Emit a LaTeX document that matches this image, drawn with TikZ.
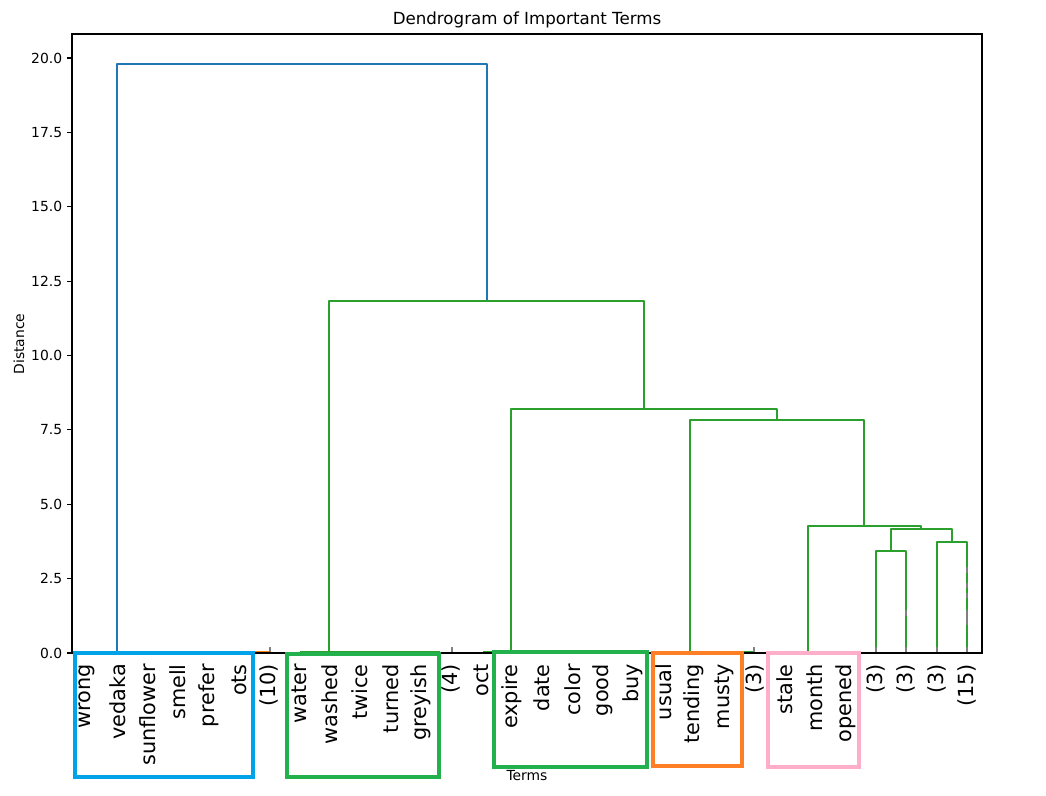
\documentclass[tikz,border=0pt]{standalone}
\usepackage{fontspec}
\setmainfont{DejaVu Sans}
\definecolor{mplblue}{HTML}{1F77B4}
\definecolor{mplgreen}{HTML}{2CA02C}
\definecolor{mplorange}{HTML}{FF7F0E}
\definecolor{boxblue}{RGB}{0,162,232}
\definecolor{boxgreen}{RGB}{34,177,76}
\definecolor{boxorange}{RGB}{255,127,39}
\definecolor{boxpink}{RGB}{255,174,201}
\begin{document}
\begin{tikzpicture}[x=1pt,y=-1pt,
  link/.style={line width=2.2pt, line join=round},
  hbox/.style={line width=3.3pt},
  ticklbl/.style={font=\fontsize{13.89}{16}\selectfont, inner sep=0pt},
  leaflbl/.style={font=\fontsize{20.83}{24}\selectfont, rotate=90, anchor=east, inner sep=0pt},
  cmark/.style={draw=black!50, line width=1.3pt}]
\useasboundingbox (0,0) rectangle (1046,795);
\fill[white] (0,0) rectangle (1046,795);

% links
\draw[link, mplblue] (117,653) -- (117,64) -- (487,64) -- (487,301);
\draw[link, mplgreen] (329,653) -- (329,301) -- (644,301) -- (644,409);
\draw[link, mplgreen] (511,653) -- (511,409) -- (777,409) -- (777,420);
\draw[link, mplgreen] (690,653) -- (690,420) -- (864,420) -- (864,526);
\draw[link, mplgreen] (808,653) -- (808,526) -- (921,526) -- (921,529);
\draw[link, mplgreen] (891,551) -- (891,529) -- (952,529) -- (952,542);
\draw[link, mplgreen] (876,653) -- (876,551) -- (906,551) -- (906,653);
\draw[link, mplgreen] (937,653) -- (937,542) -- (967,542) -- (967,653);
% near-zero links
\draw[link, mplgreen] (300,652) -- (440,652);
\draw[link, mplgreen] (483,652) -- (648,652);
\draw[link, mplgreen] (740,652) -- (755,652);
\draw[link, mplorange] (255,652) -- (269,652);

% contraction marks
\draw[cmark] (906,610) -- (906,616);
\draw[cmark] (967,567) -- (967,573);
\draw[cmark] (967,583) -- (967,588);
\draw[cmark] (967,593) -- (967,598);
\draw[cmark] (967,610) -- (967,625);
\foreach \mx in {270,452,754,876,906,937,967}
  \draw[cmark] (\mx,647) -- (\mx,653);

% axes frame
\draw[line width=1.11pt] (72,34) rectangle (982,653);

% y ticks
\foreach \v [count=\k from 0] in {0.0,2.5,5.0,7.5,10.0,12.5,15.0,17.5,20.0} {
  \draw[line width=1.11pt] (72,{653-\k*74.375}) -- (67.1,{653-\k*74.375});
  \node[ticklbl, anchor=east] (yt\k) at (62.3,{653-\k*74.375}) {\v};
}

% leaf labels
\foreach \t [count=\i from 0] in {wrong,vedaka,sunflower,smell,prefer,ots,{(10)},water,washed,twice,turned,greyish,{(4)},oct,expire,date,color,good,buy,usual,tending,musty,{(3)},stale,month,opened,{(3)},{(3)},{(3)},{(15)}} {
  \node[leaflbl] (leaf\i) at ({72+(\i+0.5)*30.3333},664) {\t};
}

% titles
\node[font=\fontsize{16.67}{20}\selectfont, inner sep=0pt] (title) at (527,20) {Dendrogram of Important Terms};
\node[ticklbl] (xlabel) at (527,776) {Terms};
\node[ticklbl, rotate=90] (ylabel) at (19,344) {Distance};

% highlight boxes
\draw[hbox, boxblue] (75,653) rectangle (253,777);
\draw[hbox, boxgreen] (287,654) rectangle (439,777);
\draw[hbox, boxgreen] (494,652) rectangle (647,767);
\draw[hbox, boxorange] (653,653) rectangle (742,766);
\draw[hbox, boxpink] (768,653) rectangle (859,767);
\end{tikzpicture}
\end{document}
